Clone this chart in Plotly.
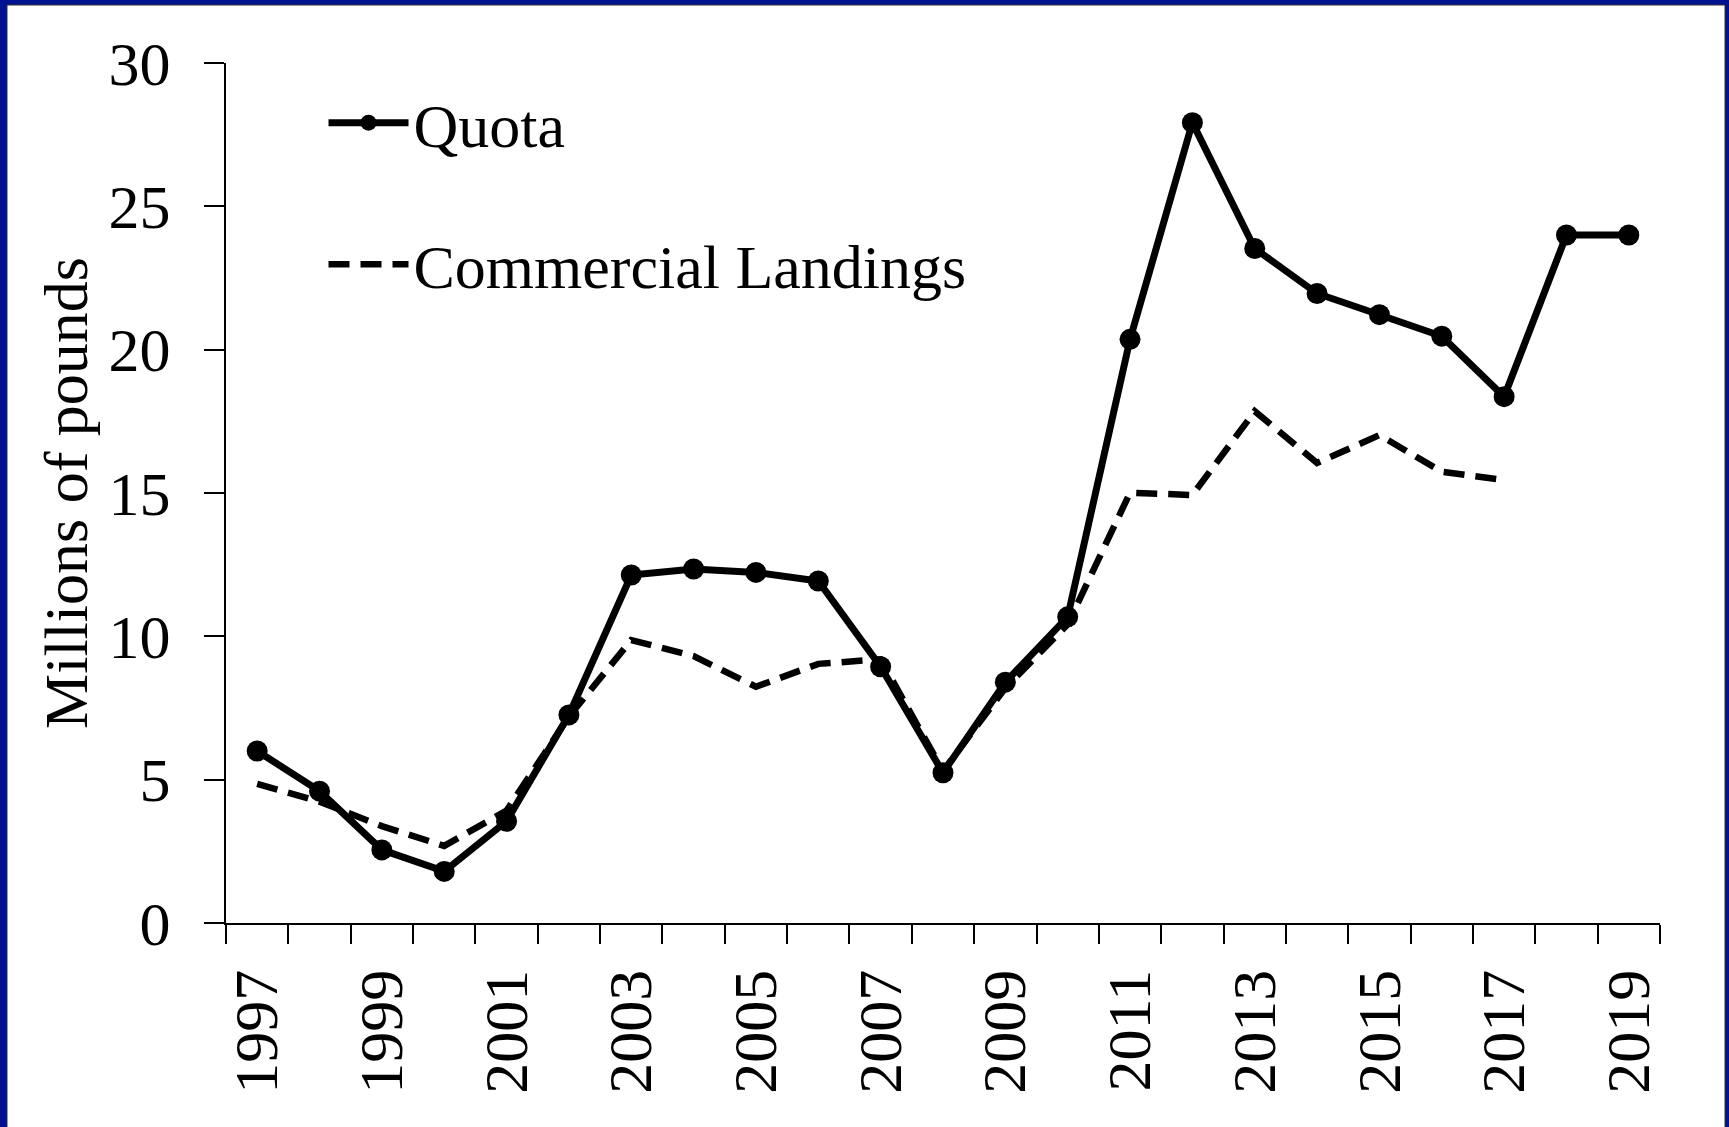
import plotly.graph_objects as go

years = [str(y) for y in range(1997, 2020)]
tick_labels = ["1997", "", "1999", "", "2001", "", "2003", "", "2005", "", "2007", "",
               "2009", "", "2011", "", "2013", "", "2015", "", "2017", "", "2019"]
quota = [6.0, 4.6, 2.55, 1.8, 3.55, 7.26, 12.14, 12.35, 12.23, 11.93, 8.94, 5.24,
         8.4, 10.68, 20.36, 27.92, 23.53, 21.96, 21.22, 20.47, 18.36, 24.0, 24.0]
landings = [4.85, 4.23, 3.38, 2.69, 3.92, 7.2, 9.87, 9.31, 8.24, 9.04, 9.2, 5.3,
            8.2, 10.42, 15.01, 14.93, 17.85, 16.05, 17.02, 15.74, 15.45, None, None]

W, H = 1729, 1127
L, R, T, B = 226, 69, 63, 204
pw, ph = W - L - R, H - T - B
FONT = "Liberation Serif, Times New Roman, serif"
NAVY = "#001290"

fig = go.Figure()
fig.add_trace(go.Scatter(
    x=years, y=quota, name="Quota", mode="lines+markers",
    line=dict(color="black", width=7),
    marker=dict(color="black", size=21),
    legendgroup="q",
))
fig.add_trace(go.Scatter(
    x=years, y=landings, name="Commercial Landings", mode="lines",
    line=dict(color="black", width=6.5, dash="21px,11px"),
    legendgroup="c",
))

# white page inside navy frame
fig.add_shape(type="rect", xref="paper", yref="paper",
              x0=(7 - L) / pw, x1=(1725 - L) / pw,
              y0=-(B + 10) / ph, y1=(H - B - 5) / ph,
              fillcolor="white", line=dict(color="#333333", width=1), layer="below")

fig.update_layout(
    width=W, height=H,
    margin=dict(l=L, r=R, t=T, b=B, pad=0),
    paper_bgcolor=NAVY, plot_bgcolor="white",
    font=dict(family=FONT, size=62, color="black"),
    showlegend=True,
    legend=dict(x=0.068, y=0.985, xanchor="left", yanchor="top",
                bgcolor="rgba(0,0,0,0)", itemwidth=80, tracegroupgap=58,
                font=dict(size=62, family=FONT)),
    xaxis=dict(type="category", range=[-0.5, 22.5], tickmode="array",
               tickvals=years, ticktext=tick_labels,
               tickson="boundaries", ticks="outside", ticklen=19, tickwidth=2,
               tickcolor="black", showline=True, linecolor="black", linewidth=2,
               tickangle=-90, showgrid=False, zeroline=False,
               tickfont=dict(size=62), ticklabelstandoff=20),
    yaxis=dict(range=[0, 30], tickvals=[0, 5, 10, 15, 20, 25, 30], ticks="outside",
               ticklen=20, tickwidth=2, tickcolor="black", showline=True,
               linecolor="black", linewidth=2, showgrid=False, zeroline=False,
               tickfont=dict(size=62), ticklabelstandoff=21,
               title=dict(text="Millions of pounds", font=dict(size=62), standoff=1)),
)

fig.write_html("out.html", config={"displayModeBar": False},
               post_script="document.body.style.margin='0';document.body.style.background='%s';" % NAVY)
